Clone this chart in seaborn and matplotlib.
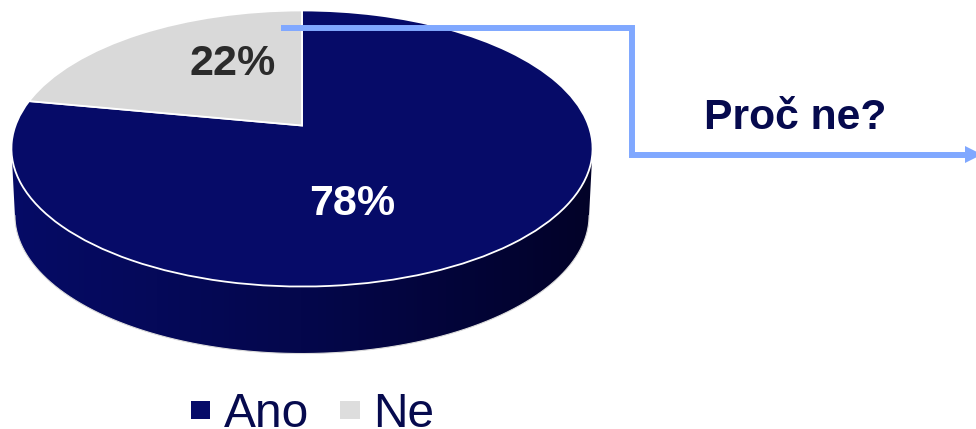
"""Perspective pie chart (Ano / Ne) with a connector to the "Proč ne?" label."""

import matplotlib
matplotlib.use("Agg")

import matplotlib.pyplot as plt
import seaborn as sns
import numpy as np
from matplotlib.patches import Patch, Polygon
from matplotlib.transforms import Transform

labels = ["Ano", "Ne"]
values = [78, 22]
pct_labels = ["78%", "22%"]
question = "Proč ne?"

NAVY = "#060b68"
GREY = "#d9d9d9"
LINE = "#80a8ff"
TEXT_NAVY = "#060a4e"

# pie geometry in pixels
CX, CY = 302, 125.5
PERSP = 1 / 6
SCALE_X, SCALE_Y = 286.5, 134.2
DEPTH = 67
BOTTOM_SHRINK = 0.988


class Perspective(Transform):
    """Tilt the unit circle of the pie into picture coordinates."""
    input_dims = 2
    output_dims = 2
    is_affine = False

    def __init__(self, shrink=1.0, shift=0.0):
        super().__init__()
        self.shrink = shrink
        self.shift = shift

    def transform_non_affine(self, values):
        xy = np.asarray(values, dtype=float)
        w = 1 + PERSP * xy[:, 1]
        return np.column_stack([
            CX + self.shrink * SCALE_X * xy[:, 0] / w,
            CY + self.shift - SCALE_Y * xy[:, 1] / w,
        ])


def rim(transform):
    """Front half of the disc outline, from left extreme to right extreme."""
    start = np.arcsin(PERSP)
    phi = np.linspace(np.pi + start, 2 * np.pi - start, 200)
    return transform.transform_non_affine(np.column_stack([np.cos(phi), np.sin(phi)]))


def main():
    sns.set_theme(style="white")
    plt.rcParams["font.family"] = ["Liberation Sans", "DejaVu Sans"]

    fig = plt.figure(figsize=(9.76, 4.29), dpi=100)
    ax = fig.add_axes([0, 0, 1, 1])

    # side wall
    top_rim = rim(Perspective())
    low_rim = rim(Perspective(BOTTOM_SHRINK, DEPTH))
    cmap = sns.blend_palette(["#060b66", "#04074c", "#020228"], as_cmap=True)
    side = Polygon(np.vstack([top_rim, low_rim[::-1]]), closed=True,
                   transform=ax.transData, facecolor="none", edgecolor="none")
    ax.add_patch(side)
    img = ax.imshow(np.linspace(0, 1, 256)[None, :], cmap=cmap, aspect="auto",
                    extent=(11, 592, 360, 140), interpolation="bilinear", zorder=1)
    img.set_clip_path(side)
    ax.plot(low_rim[:, 0], low_rim[:, 1], color="#dcdcdc", lw=0.8, zorder=1.5)

    # top disc
    wedges, _ = ax.pie(values, colors=[NAVY, GREY], startangle=90, counterclock=False,
                       frame=True, wedgeprops={"edgecolor": "white", "linewidth": 1.3})
    for wedge in wedges:
        wedge.set_transform(Perspective() + ax.transData)
        wedge.set_zorder(2)
        wedge.set_clip_on(False)

    ax.text(352.5, 204, pct_labels[0], color="white", fontsize=31, fontweight="bold",
            ha="center", va="center", zorder=4)
    ax.text(233, 64, pct_labels[1], color="#2b2b2b", fontsize=31, fontweight="bold",
            ha="center", va="center", zorder=4)
    ax.text(795, 118, question, color=TEXT_NAVY, fontsize=30.7, fontweight="bold",
            ha="center", va="center", zorder=4)

    # connector
    ax.plot([281, 632, 632, 968], [28, 28, 154.5, 154.5], color=LINE, lw=4.3,
            solid_joinstyle="miter", solid_capstyle="butt", zorder=3)
    ax.fill([965, 965, 982], [146, 163, 154.5], color=LINE, lw=0, zorder=3)

    handles = [Patch(facecolor=NAVY, edgecolor="none"),
               Patch(facecolor="#dddddd", edgecolor="none")]
    ax.legend(handles, labels, ncol=2, frameon=False, fontsize=34.5,
              loc="lower left", bbox_to_anchor=(191, 437), bbox_transform=ax.transData,
              handlelength=0.40, handleheight=0.2, handletextpad=0.29,
              columnspacing=0.65, labelcolor=TEXT_NAVY, borderpad=0, borderaxespad=0)

    ax.set_xlim(0, 976)
    ax.set_ylim(429, 0)
    ax.set_aspect("auto")
    ax.axis("off")
    fig.savefig("out.png", dpi=100)
    plt.close(fig)


if __name__ == "__main__":
    main()
